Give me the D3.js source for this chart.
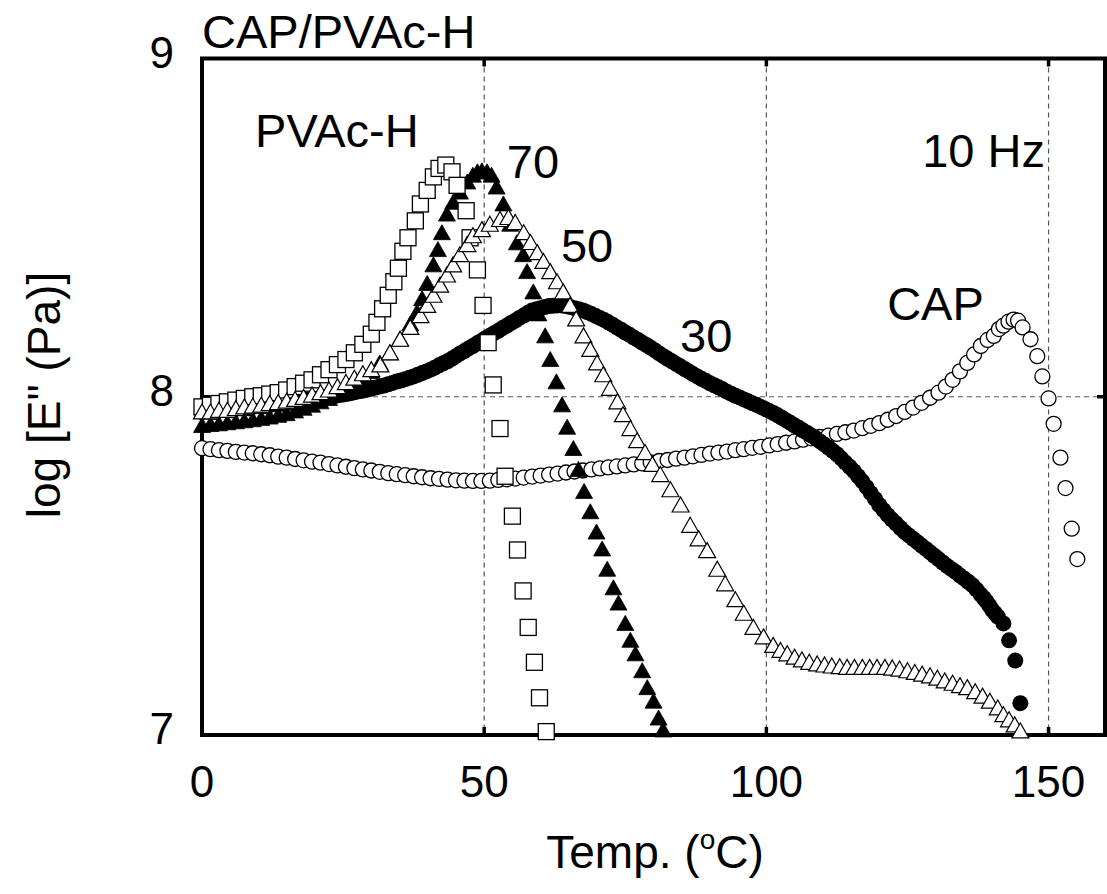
<!DOCTYPE html>
<html lang="en">
<head>
<meta charset="UTF-8">
<title>CAP/PVAc-H loss modulus</title>
<style>
  body { margin: 0; background: #fff; }
  svg { display: block; font-family: "Liberation Sans", Arial, sans-serif; }
  .grid { stroke: #555; stroke-width: 1.2; stroke-dasharray: 5,4; }
  .tick-label { font-size: 44px; fill: #000; }
  .ann { font-size: 47px; fill: #000; }
</style>
</head>
<body>
<svg id="chart" width="1107" height="894"></svg>
<script src="https://d3js.org/d3.v7.min.js"></script>
<script>
const xTicks = [0, 50, 100, 150];
const yTicks = [7, 8, 9];
const xGrid = [50, 100, 150];
const yGrid = [8];

// [temperature (C), log E'' (Pa)]
// PVAc-H, open squares
const pvacH = [
  [0,7.97],[1.5,7.975],[3,7.98],[4.5,7.985],[6,7.99],[7.5,7.995],[9,8.0],[10.5,8.003],
  [12,8.008],[13.5,8.012],[15,8.02],[16.5,8.03],[18,8.04],[19.5,8.05],[21,8.065],[22.5,8.08],
  [24,8.095],[25.5,8.11],[27,8.13],[28.5,8.155],[30,8.185],[31,8.22],[32,8.26],[33,8.30],
  [34,8.34],[34.8,8.38],[35.6,8.43],[36.5,8.47],[37.8,8.52],[38.7,8.57],[39.9,8.61],[41,8.65],
  [42,8.675],[43.2,8.685],[44.3,8.665],[45.2,8.625],[46.8,8.55],[47.5,8.47],[48.8,8.375],
  [49.8,8.27],[50.7,8.16],[51.6,8.035],[52.8,7.906],[53.7,7.765],[55.0,7.647],[55.9,7.547],
  [56.9,7.426],[57.8,7.318],[58.9,7.215],[59.8,7.11],[61.0,7.01]
];

// 70 / 30 blend, filled triangles
const blend70 = [
  [0,7.915],[1.5,7.918],[3,7.92],[4.5,7.923],[6,7.926],[7.5,7.929],[9,7.932],[10.5,7.936],
  [12,7.94],[13.5,7.945],[15,7.95],[16.5,7.958],[18,7.966],[19.5,7.975],[21,7.985],[22.5,7.995],
  [24,8.007],[25.5,8.02],[27,8.035],[28.5,8.055],[30,8.075],[31.5,8.10],[33.3,8.13],[35.1,8.17],
  [36.9,8.215],[38.1,8.25],[39,8.29],[39.9,8.335],[41,8.39],[41.8,8.435],[42.5,8.485],[43.4,8.54],
  [44.5,8.575],[45.7,8.605],[47,8.635],[48,8.655],[48.8,8.665],[49.6,8.668],[50.5,8.665],
  [51.3,8.655],[52.2,8.62],[53.4,8.57],[54.6,8.51],[55.8,8.455],[56.9,8.42],[57.6,8.37],
  [58.7,8.31],[59.6,8.245],[60.8,8.18],[61.7,8.11],[62.8,8.044],[63.8,7.976],[64.7,7.91],
  [65.8,7.847],[66.7,7.785],[67.7,7.72],[68.8,7.66],[69.9,7.60],[70.9,7.55],[71.8,7.49],
  [72.9,7.435],[73.8,7.39],[75,7.33],[75.9,7.28],[76.8,7.24],[78,7.19],[78.9,7.14],[80,7.10],
  [80.9,7.05],[81.7,7.015]
];

// 50 / 50 blend, open triangles
const blend50 = [
  [0,7.955],[1.5,7.955],[3,7.96],[4.5,7.96],[6,7.965],[7.5,7.97],[9,7.972],[10.5,7.975],
  [12,7.98],[13.5,7.983],[15,7.987],[16.5,7.992],[18,7.998],[19.5,8.005],[21,8.012],[22.5,8.02],
  [24,8.03],[25.5,8.042],[27,8.055],[28.5,8.068],[30,8.08],[31.6,8.094],[33.3,8.13],[35.1,8.17],
  [36.9,8.205],[38.7,8.24],[39.9,8.27],[41,8.30],[42.2,8.33],[43.4,8.36],[44.5,8.39],[45.7,8.42],
  [47,8.45],[48,8.476],[49.6,8.494],[51,8.51],[52.8,8.524],[54.3,8.53],[55.5,8.515],[57,8.485],
  [58.2,8.456],[59.4,8.426],[60.5,8.40],[61.7,8.37],[62.9,8.34],[64,8.31],[65.2,8.27],[66.3,8.23],
  [67.6,8.18],[68.8,8.14],[70,8.10],[71.1,8.065],[72.3,8.025],[73.6,7.985],[74.6,7.947],
  [75.9,7.906],[77.1,7.87],[78.5,7.835],[79.8,7.80],[81.2,7.77],[83,7.725],[84.8,7.68],
  [86.5,7.62],[88,7.58],[89.5,7.545],[91.3,7.49],[92.7,7.447],[94.5,7.40],[96,7.36],[97.7,7.318],
  [99.5,7.29],[101.2,7.265],[102.5,7.25],[103.7,7.24],[105,7.23],[106.3,7.222],[107.6,7.215],
  [109,7.21],[110.3,7.207],[111.6,7.204],[113,7.202],[114.3,7.2],[115.6,7.2],[117,7.2],
  [118.3,7.2],[119.6,7.2],[121,7.2],[122.3,7.198],[123.6,7.195],[125,7.19],[126.3,7.185],
  [127.6,7.18],[129,7.175],[130.3,7.168],[131.6,7.16],[133,7.153],[134.3,7.146],[135.6,7.14],
  [137,7.128],[138.3,7.115],[139.6,7.1],[141,7.08],[142,7.06],[143,7.045],[144,7.03],[145,7.012]
];

// 30 / 70 blend, filled circles (densely sampled, reads as a solid band)
const blend30 = [
  [0,7.955],[0.75,7.958],[1.5,7.957],[2.25,7.955],[3,7.96],[3.75,7.963],[4.5,7.962],[5.25,7.96],
  [6,7.965],[6.75,7.968],[7.5,7.967],[8.25,7.966],[9,7.97],[9.75,7.973],[10.5,7.972],[11.25,7.972],
  [12,7.975],[12.75,7.978],[13.5,7.978],[14.25,7.979],[15,7.982],[15.75,7.985],[16.5,7.985],
  [17.25,7.986],[18,7.988],[18.75,7.991],[19.5,7.992],[20.25,7.993],[21,7.996],[21.75,7.999],
  [22.5,8.0],[23.25,8.002],[24,8.004],[24.75,8.006],[25.5,8.008],[26.25,8.01],[27,8.013],
  [27.75,8.016],[28.5,8.018],[29.25,8.021],[30,8.024],[30.75,8.027],[31.5,8.03],[32.25,8.033],
  [33,8.037],[33.75,8.041],[34.5,8.045],[35.25,8.048],[36,8.052],[36.75,8.056],[37.5,8.06],
  [38.25,8.065],[39,8.07],[39.75,8.075],[40.5,8.08],[41.25,8.086],[42,8.093],[42.75,8.099],
  [43.5,8.105],[44.25,8.112],[45,8.12],[45.75,8.128],[46.5,8.135],[47.25,8.143],[48,8.15],
  [48.75,8.158],[49.5,8.165],[50.25,8.173],[51,8.18],[51.75,8.188],[52.5,8.195],[53.25,8.203],
  [54,8.21],[54.75,8.218],[55.5,8.225],[56.25,8.233],[57,8.24],[57.75,8.248],[58.5,8.255],
  [59.25,8.259],[60,8.262],[60.75,8.265],[61.5,8.268],[62.25,8.269],[63,8.27],[63.75,8.27],
  [64.5,8.268],[65.25,8.265],[66,8.262],[66.75,8.259],[67.5,8.255],[68.25,8.25],[69,8.245],
  [69.75,8.239],[70.5,8.233],[71.25,8.227],[72,8.22],[72.75,8.213],[73.5,8.205],[74.25,8.198],
  [75,8.19],[75.75,8.183],[76.5,8.175],[77.25,8.168],[78,8.16],[78.75,8.153],[79.5,8.145],
  [80.25,8.137],[81,8.128],[81.75,8.12],[82.5,8.112],[83.25,8.105],[84,8.097],[84.75,8.09],
  [85.5,8.082],[86.25,8.075],[87,8.067],[87.75,8.06],[88.5,8.053],[89.25,8.047],[90,8.04],
  [90.75,8.034],[91.5,8.028],[92.25,8.022],[93,8.015],[93.75,8.009],[94.5,8.003],[95.25,7.998],
  [96,7.992],[96.75,7.987],[97.5,7.981],[98.25,7.976],[99,7.97],[99.75,7.964],[100.5,7.958],
  [101.25,7.952],[102,7.945],[102.75,7.938],[103.5,7.93],[104.25,7.923],[105,7.915],
  [105.75,7.908],[106.5,7.9],[107.25,7.893],[108,7.885],[108.75,7.877],[109.5,7.868],
  [110.25,7.859],[111,7.85],[111.75,7.84],[112.5,7.83],[113.25,7.818],[114,7.805],[114.75,7.793],
  [115.5,7.78],[116.25,7.765],[117,7.75],[117.75,7.733],[118.5,7.715],[119.25,7.698],[120,7.68],
  [120.75,7.665],[121.5,7.65],[122.25,7.637],[123,7.625],[123.75,7.612],[124.5,7.6],[125.25,7.59],
  [126,7.58],[126.75,7.57],[127.5,7.56],[128.25,7.55],[129,7.54],[129.75,7.53],[130.5,7.52],
  [131.25,7.51],[132,7.5],[132.75,7.491],[133.5,7.482],[134.25,7.472],[135,7.463],[135.75,7.453],
  [136.5,7.443],[137.25,7.43],[138,7.415],[138.5,7.405],[139,7.395],[139.5,7.383],[140,7.37],
  [140.5,7.36],[141,7.35],[142,7.33],[143,7.28],[144.1,7.22],[145,7.094]
];

// CAP, open circles
const cap = [
  [0,7.848],[1.5,7.845],[3,7.842],[4.5,7.84],[6,7.837],[7.5,7.835],[9,7.833],[10.5,7.83],
  [12,7.827],[13.5,7.823],[15,7.82],[16.5,7.816],[18,7.812],[19.5,7.808],[21,7.805],[22.5,7.801],
  [24,7.797],[25.5,7.793],[27,7.789],[28.5,7.785],[30,7.782],[31.5,7.778],[33,7.774],[34.5,7.771],
  [36,7.768],[37.5,7.765],[39,7.762],[40.5,7.759],[42,7.757],[43.5,7.755],[45,7.753],[46.5,7.752],
  [48,7.751],[49.5,7.751],[51,7.752],[52.5,7.754],[54,7.756],[55.5,7.758],[57,7.761],[58.5,7.764],
  [60,7.767],[61.5,7.77],[63,7.773],[64.5,7.776],[66,7.779],[67.5,7.782],[69,7.785],[70.5,7.788],
  [72,7.791],[73.5,7.794],[75,7.797],[76.5,7.8],[78,7.803],[79.5,7.806],[81,7.81],[82.5,7.813],
  [84,7.817],[85.5,7.82],[87,7.824],[88.5,7.828],[90,7.832],[91.5,7.835],[93,7.838],[94.5,7.842],
  [96,7.845],[97.5,7.849],[99,7.852],[100.5,7.856],[102,7.86],[103.5,7.864],[105,7.868],
  [106.5,7.873],[108,7.877],[109.5,7.881],[111,7.885],[112.5,7.89],[114,7.895],[115.5,7.9],
  [117,7.907],[118.5,7.914],[120,7.922],[121.5,7.932],[123,7.943],[124.5,7.955],[126,7.968],
  [127.5,7.982],[129,7.997],[130.5,8.012],[131.8,8.03],[133,8.05],[134.3,8.075],[135.6,8.10],
  [136.8,8.125],[138,8.15],[139.2,8.168],[140.3,8.18],[141.2,8.2],[142,8.21],[142.9,8.222],
  [143.8,8.228],[144.6,8.225],[145.4,8.205],[146.8,8.17],[148,8.12],[148.9,8.06],[150,7.995],
  [150.9,7.92],[152.1,7.82],[153,7.73],[154.1,7.61],[155.1,7.52]
];

const svg = d3.select("#chart");
svg.append("rect").attr("width", 1107).attr("height", 894).attr("fill", "#fff");

const x = d3.scaleLinear().domain([0, 160]).range([202, 1105]);
const y = d3.scaleLinear().domain([7, 9]).range([735, 58.5]);

// grid lines
svg.selectAll(".gx").data(xGrid).enter().append("line")
  .attr("class", "grid")
  .attr("x1", d => x(d)).attr("x2", d => x(d))
  .attr("y1", y(9)).attr("y2", y(7));
svg.selectAll(".gy").data(yGrid).enter().append("line")
  .attr("class", "grid")
  .attr("x1", x(0)).attr("x2", x(160))
  .attr("y1", d => y(d)).attr("y2", d => y(d));

// frame
svg.append("rect")
  .attr("x", x(0)).attr("y", y(9))
  .attr("width", x(160) - x(0)).attr("height", y(7) - y(9))
  .attr("fill", "none").attr("stroke", "#000").attr("stroke-width", 4);

// inward ticks
const tickLen = 8;
function tickMarks(data, fn) {
  svg.append("g").selectAll("line").data(data).enter().append("line")
    .each(function (d) { const p = fn(d); d3.select(this).attr("x1", p[0]).attr("y1", p[1]).attr("x2", p[2]).attr("y2", p[3]); })
    .attr("stroke", "#000").attr("stroke-width", 3.5);
}
tickMarks(xGrid, d => [x(d), y(7), x(d), y(7) - tickLen]);
tickMarks(xGrid, d => [x(d), y(9), x(d), y(9) + tickLen]);
tickMarks(yGrid, d => [x(0), y(d), x(0) + tickLen, y(d)]);
tickMarks(yGrid, d => [x(160), y(d), x(160) - tickLen, y(d)]);

// tick labels
svg.append("g").selectAll("text").data(xTicks).enter().append("text")
  .attr("class", "tick-label")
  .attr("x", d => x(d)).attr("y", 797)
  .attr("text-anchor", "middle")
  .text(d => d);
svg.append("g").selectAll("text").data(yTicks).enter().append("text")
  .attr("class", "tick-label")
  .attr("x", 174).attr("y", d => y(d) + 9)
  .attr("text-anchor", "end")
  .text(d => d);

// axis titles
const xt = svg.append("text")
  .attr("x", 655).attr("y", 868)
  .attr("text-anchor", "middle")
  .attr("font-size", 46);
xt.append("tspan").text("Temp. (");
xt.append("tspan").attr("font-size", 28).attr("dy", -19).text("o");
xt.append("tspan").attr("dy", 19).text("C)");

svg.append("text")
  .attr("transform", "translate(60,395) rotate(-90)")
  .attr("text-anchor", "middle")
  .attr("font-size", 46)
  .text('log [E" (Pa)]');

// markers
const g = svg.append("g");
const tri = "M0,-8L8.5,7L-8.5,7Z";

g.selectAll(".cap").data(cap).enter().append("circle")
  .attr("cx", d => x(d[0])).attr("cy", d => y(d[1])).attr("r", 7.5)
  .attr("fill", "#fff").attr("stroke", "#000").attr("stroke-width", 1.3);

g.selectAll(".b30").data(blend30).enter().append("circle")
  .attr("cx", d => x(d[0])).attr("cy", d => y(d[1])).attr("r", 8)
  .attr("fill", "#000");

g.selectAll(".b70").data(blend70).enter().append("path")
  .attr("d", tri)
  .attr("transform", d => `translate(${x(d[0])},${y(d[1])})`)
  .attr("fill", "#000").attr("stroke", "#000").attr("stroke-width", 0.8);

g.selectAll(".pv").data(pvacH).enter().append("rect")
  .attr("x", d => x(d[0]) - 8).attr("y", d => y(d[1]) - 8)
  .attr("width", 16).attr("height", 16)
  .attr("fill", "#fff").attr("stroke", "#000").attr("stroke-width", 1.3);

g.selectAll(".b50").data(blend50).enter().append("path")
  .attr("d", tri)
  .attr("transform", d => `translate(${x(d[0])},${y(d[1])})`)
  .attr("fill", "#fff").attr("stroke", "#000").attr("stroke-width", 1.2);

// annotations, placed in data units
const notes = [
  { text: "CAP/PVAc-H", t: 0, v: 9.0 },
  { text: "PVAc-H", t: 9.4, v: 8.738 },
  { text: "70", t: 54.0, v: 8.648 },
  { text: "50", t: 63.6, v: 8.398 },
  { text: "30", t: 84.7, v: 8.132 },
  { text: "CAP", t: 121.4, v: 8.227 },
  { text: "10 Hz", t: 127.6, v: 8.679 }
];
svg.append("g").selectAll("text").data(notes).enter().append("text")
  .attr("class", "ann")
  .attr("x", d => x(d.t))
  .attr("y", (d, i) => i === 0 ? 48 : y(d.v))
  .text(d => d.text);
</script>
</body>
</html>
